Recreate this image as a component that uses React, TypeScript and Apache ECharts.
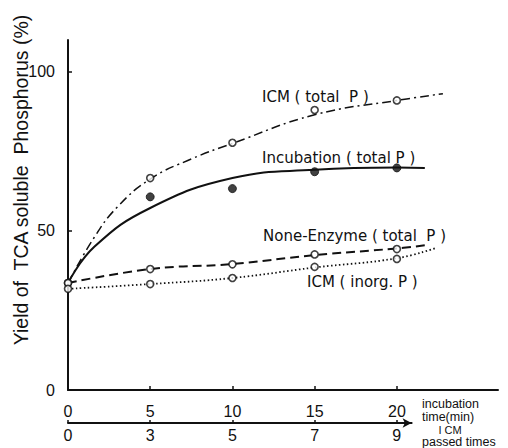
import React, { useEffect, useRef } from "react";
import * as echarts from "echarts";

// Measured points (incubation time, min)
const pointTimes = [0, 5, 10, 15, 20];
const icmTotalPts = [33.6, 66.6, 77.7, 88.0, 91.0];
const incubationPtTimes = [5, 10, 15, 20];
const incubationPts = [60.7, 63.3, 68.6, 69.8];
const noneEnzymePts = [33.6, 38.0, 39.5, 42.6, 44.3];
const icmInorgPts = [31.8, 33.3, 35.2, 38.7, 41.2];

// Fitted curves
const icmTotalCurveT = [0, 1.6, 3, 5, 7.5, 10, 15, 20, 22.8];
const icmTotalCurveV = [33.6, 48, 57.5, 66.3, 72.6, 77.5, 86.5, 91, 93.1];
const incubationCurveT = [0, 1.6, 5, 10, 15, 20, 21.7];
const incubationCurveV = [33.6, 45, 57.2, 66.6, 69.2, 69.9, 69.8];
const noneEnzymeCurveT = [0, 5, 10, 15, 20, 21.9];
const noneEnzymeCurveV = [33.6, 38.0, 39.6, 42.4, 44.5, 45.6];
const icmInorgCurveT = [0, 5, 10, 15, 20, 22.4];
const icmInorgCurveV = [31.8, 33.3, 35.2, 38.5, 41.4, 44.7];

// Tick labels
const timeTicks = [0, 5, 10, 15, 20];
const icmPassLabels = ["0", "3", "5", "7", "9"];
const yTicks = [0, 50, 100];

const FONT = "Liberation Sans";
const LABEL_FONT = "DejaVu Sans";
const INK = "#111";

const zip = (a: number[], b: number[]) => a.map((x, i) => [x, b[i]]);

export default function App() {
  const ref = useRef<HTMLDivElement>(null);
  useEffect(() => {
    if (!ref.current) return;
    const chart = echarts.init(ref.current, null, { renderer: "svg" });
    const curve = (name: string, t: number[], v: number[], type: any, width: number) => ({
      name,
      type: "line",
      xAxisIndex: 0,
      yAxisIndex: 0,
      data: zip(t, v),
      smooth: 0.45,
      showSymbol: false,
      symbol: "none",
      lineStyle: { color: INK, width, type },
      z: 2,
    });
    const pts = (name: string, t: number[], v: number[], filled: boolean) => ({
      name,
      type: "scatter",
      xAxisIndex: 0,
      yAxisIndex: 0,
      data: zip(t, v),
      symbol: "circle",
      symbolSize: filled ? 8 : 7,
      itemStyle: filled
        ? { color: INK, borderColor: INK, borderWidth: 1 }
        : { color: "#fff", borderColor: INK, borderWidth: 1.6 },
      z: 5,
    });
    const labelText = (
      x: number,
      y: number,
      text: string,
      size = 14,
      align = "left",
      family = LABEL_FONT,
      lh?: number
    ) => ({
      type: "text",
      x,
      y,
      style: {
        text,
        fontFamily: family,
        fontSize: size,
        lineHeight: lh ?? size + 2,
        fill: INK,
        textAlign: align,
        textVerticalAlign: "middle",
      },
    });
    chart.setOption({
      animation: false,
      backgroundColor: "#fff",
      grid: [
        { left: 68, top: 40, width: 430, height: 350 },
        { left: 68, top: 400, width: 343.6, height: 23 },
      ],
      xAxis: [
        {
          type: "value",
          gridIndex: 0,
          min: 0,
          max: 26.15,
          splitLine: { show: false },
          axisLine: { lineStyle: { color: INK, width: 2 } },
          axisTick: { inside: true, length: 4, customValues: timeTicks, lineStyle: { color: INK, width: 1.5 } },
          axisLabel: {
            customValues: timeTicks,
            color: INK,
            fontFamily: FONT,
            fontSize: 16,
            margin: 13,
          },
        },
        {
          type: "value",
          gridIndex: 1,
          min: 0,
          max: 20.9,
          splitLine: { show: false },
          axisLine: {
            lineStyle: { color: INK, width: 2 },
            symbol: ["none", "arrow"],
            symbolSize: [7, 9],
          },
          axisTick: { inside: true, length: 3, customValues: timeTicks, lineStyle: { color: INK, width: 1.5 } },
          axisLabel: {
            customValues: timeTicks,
            color: INK,
            fontFamily: FONT,
            fontSize: 16,
            margin: 4,
            formatter: (v: number) => icmPassLabels[timeTicks.indexOf(v)] ?? "",
          },
        },
      ],
      yAxis: [
        {
          type: "value",
          gridIndex: 0,
          min: 0,
          max: 110,
          splitLine: { show: false },
          axisLine: { show: true, lineStyle: { color: INK, width: 2 } },
          axisTick: { show: true, inside: true, length: 4, customValues: yTicks, lineStyle: { color: INK, width: 1.5 } },
          axisLabel: {
            customValues: yTicks,
            color: INK,
            fontFamily: FONT,
            fontSize: 16,
            margin: 13,
          },
        },
        {
          type: "value",
          gridIndex: 1,
          show: false,
        },
      ],
      series: [
        curve("ICM (total P)", icmTotalCurveT, icmTotalCurveV, [9, 4, 2, 4], 1.5),
        curve("Incubation (total P)", incubationCurveT, incubationCurveV, "solid", 2),
        curve("None-Enzyme (total P)", noneEnzymeCurveT, noneEnzymeCurveV, [9, 5], 2),
        curve("ICM (inorg. P)", icmInorgCurveT, icmInorgCurveV, [1.5, 2.5], 1.8),
        pts("ICM (total P) pts", pointTimes, icmTotalPts, false),
        pts("Incubation pts", incubationPtTimes, incubationPts, true),
        pts("None-Enzyme pts", pointTimes, noneEnzymePts, false),
        pts("ICM inorg pts", pointTimes, icmInorgPts, false),
      ],
      graphic: [
        labelText(262, 97, "ICM ( total  P )", 15),
        labelText(262, 158, "Incubation ( total P )", 15),
        labelText(263, 236, "None-Enzyme ( total  P )", 15),
        labelText(307, 282, "ICM ( inorg. P )", 15),
        labelText(422, 404, "incubation", 12.5, "left", FONT, 12),
        labelText(422, 416.5, "time(min)", 12.5, "left", FONT, 12),
        labelText(450, 429.5, "I CM", 11, "center", FONT, 11),
        labelText(422, 441.5, "passed times", 12.5, "left", FONT, 12),
        {
          type: "text",
          x: 21,
          y: 180,
          rotation: Math.PI / 2,
          style: {
            text: "Yield of  TCA soluble  Phosphorus (%)",
            fontFamily: FONT,
            fontSize: 19.5,
            fill: INK,
            textAlign: "center",
            textVerticalAlign: "middle",
          },
        },
      ],
    });
    return () => chart.dispose();
  }, []);
  return (
    <div
      ref={ref}
      style={{ position: "absolute", left: 0, top: 0, width: 508, height: 448, background: "#fff" }}
    />
  );
}
